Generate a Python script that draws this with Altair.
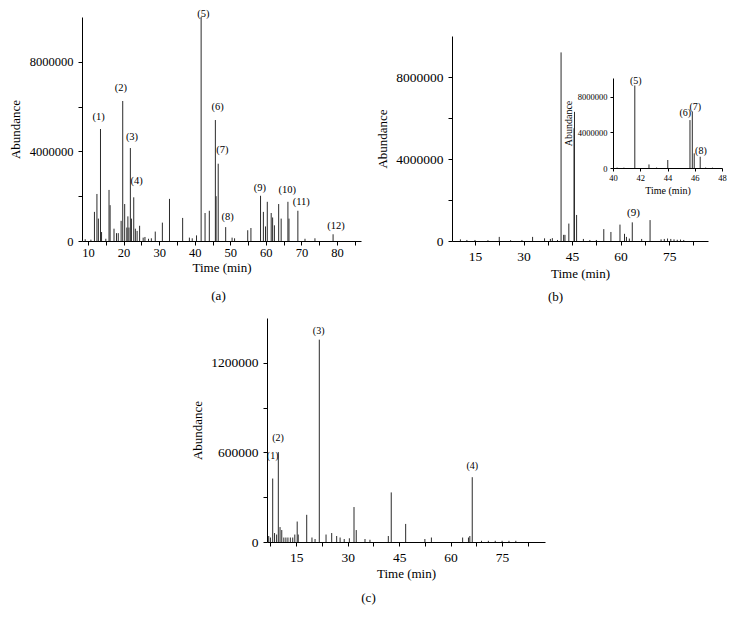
import altair as alt
import pandas as pd

W, H = 723, 609
FONT = "Liberation Serif"

# ---------------- Panel (a) ----------------
A_TIME = [9.2, 10.8, 11.8, 12.5, 12.9, 13.5, 13.8, 15.0, 15.9, 16.2, 17.3, 18.0, 18.5, 19.3,
          19.75, 20.3, 20.9, 21.2, 21.5, 21.9, 22.2, 22.85, 23.3, 23.8, 24.5, 25.5, 26.0, 27.0,
          27.8, 28.9, 30.9, 32.9, 36.6, 38.5, 39.3, 40.5, 41.8, 42.9, 44.1, 45.8, 46.0, 46.6,
          48.7, 50.5, 51.2, 54.9, 55.8, 58.5, 59.3, 59.9, 60.4, 61.5, 61.9, 62.4, 63.6, 64.3,
          66.2, 66.5, 69.0, 71.0, 73.8, 78.9]
A_ABUND = [0.08, 0.06, 1.3, 2.1, 1.0, 5.0, 0.4, 0.1, 2.28, 1.6, 0.55, 0.35, 0.35, 0.9,
           6.25, 1.65, 0.6, 1.1, 0.6, 4.15, 1.0, 1.95, 0.55, 0.45, 0.68, 0.15, 0.18, 0.1,
           0.12, 0.42, 0.82, 1.88, 1.03, 0.15, 0.12, 0.25, 10.0, 1.25, 1.35, 5.4, 2.0, 3.45,
           0.62, 0.15, 0.12, 0.48, 0.58, 2.02, 1.3, 0.65, 1.75, 1.25, 1.05, 0.7, 1.65, 1.0,
           1.75, 1.0, 1.35, 0.1, 0.12, 0.3]
A_LABEL = ["(1)", "(2)", "(3)", "(4)", "(5)", "(6)", "(7)", "(8)", "(9)", "(10)", "(11)", "(12)"]
A_LABEL_TIME = [13.0, 19.2, 22.36, 23.68, 42.4, 46.45, 47.75, 49.25, 58.35, 66.0, 69.95, 79.7]
A_LABEL_ABUND = [5.52, 6.85, 4.65, 2.66, 10.15, 6.0, 4.08, 1.06, 2.36, 2.27, 1.75, 0.67]
A_XTICKS = [10, 15, 20, 25, 30, 35, 40, 45, 50, 55, 60, 65, 70, 75, 80, 85]
A_YTICKS = [0, 2000000, 4000000, 6000000, 8000000]

# ---------------- Panel (b) ----------------
B_TIME = [10.5, 12.5, 15.0, 19.0, 22.5, 26.0, 29.5, 32.8, 36.5, 38.3, 38.9, 40.5, 41.6,
          42.4, 42.8, 44.0, 45.6, 45.75, 46.4, 48.5, 50.5, 52.5, 54.8, 57.0, 59.8, 61.2,
          61.8, 62.7, 63.6, 66.5, 69.1, 72.5, 73.5, 74.5, 75.5, 76.5, 77.5, 78.5, 79.5]
B_ABUND = [0.08, 0.05, 0.05, 0.04, 0.2, 0.04, 0.05, 0.2, 0.13, 0.1, 0.14, 0.05, 9.2,
           0.3, 0.3, 0.85, 5.5, 6.3, 1.27, 0.1, 0.05, 0.05, 0.58, 0.44, 0.8, 0.35,
           0.2, 0.12, 0.91, 0.1, 1.02, 0.08, 0.1, 0.12, 0.1, 0.08, 0.06, 0.07, 0.05]
B_LABEL = ["(9)"]
B_LABEL_TIME = [63.98]
B_LABEL_ABUND = [1.35]
B_XTICKS = [15, 22.5, 30, 37.5, 45, 52.5, 60, 67.5, 75, 82.5]
B_YTICKS = [0, 2000000, 4000000, 6000000, 8000000]

# ---------------- Inset of (b) ----------------
I_TIME = [40.3, 40.8, 41.6, 42.64, 43.2, 44.02, 45.65, 45.82, 45.96, 46.4, 46.8, 47.3]
I_ABUND = [0.05, 0.04, 9.3, 0.4, 0.05, 0.9, 5.4, 6.35, 1.65, 1.27, 0.05, 0.04]
I_LABEL = ["(5)", "(6)", "(7)", "(8)"]
I_LABEL_TIME = [41.67, 45.31, 46.04, 46.45]
I_LABEL_ABUND = [9.84, 6.16, 6.84, 1.92]
I_XTICKS = [40, 42, 44, 46, 48]
I_YTICKS = [0, 4000000, 8000000]

# ---------------- Panel (c) ----------------
C_TIME = [7.0, 7.5, 8.16, 8.7, 9.3, 9.8, 10.3, 10.8, 11.4, 12.0, 12.6, 13.3, 14.0, 14.6,
          15.3, 15.6, 18.07, 19.6, 20.5, 21.74, 23.7, 25.35, 26.8, 27.8, 29.0, 30.5, 31.85,
          32.5, 35.05, 36.5, 41.85, 42.7, 46.9, 52.5, 54.4, 63.5, 65.2, 65.6, 66.3,
          69.0, 71.0, 73.0, 75.0, 77.0, 79.0]
C_ABUND = [0.04, 0.03, 0.425, 0.06, 0.05, 0.602, 0.1, 0.08, 0.03, 0.03, 0.03, 0.03, 0.03, 0.05,
           0.137, 0.05, 0.182, 0.03, 0.02, 1.355, 0.05, 0.06, 0.04, 0.03, 0.02, 0.025, 0.234,
           0.08, 0.02, 0.015, 0.04, 0.332, 0.121, 0.02, 0.03, 0.03, 0.03, 0.04, 0.434,
           0.008, 0.008, 0.008, 0.008, 0.008, 0.008]
C_LABEL = ["(1)", "(2)", "(3)", "(4)"]
C_LABEL_TIME = [8.16, 9.7, 21.56, 66.3]
C_LABEL_ABUND = [0.573, 0.698, 1.412, 0.506]
C_XTICKS = [7.5, 15, 22.5, 30, 37.5, 45, 52.5, 60, 67.5, 75, 82.5]
C_YTICKS = [0, 300000, 600000, 900000, 1200000]


def frame(times, abunds, scale):
    return pd.DataFrame({"t": times, "v": [a * scale for a in abunds]})


def lab_frame(labels, times, abunds, scale):
    return pd.DataFrame({"lab": labels, "t": times, "v": [a * scale for a in abunds]})


def panel(peaks, labels, xdom, xrng, ydom, yrng, xticks, yticks, xmod, ymod,
          caption, capx, capy, lab_size=12.5, title_size=13, tick=4,
          xlabpad=2, xtitlepad=3, ylabpad=5, ytitlepad=6, peak_lab=10.5,
          xtitle="Time (min)", ytitle="Abundance"):
    axis_y_line = yrng[0]
    axis_x_line = xrng[0]
    xs = alt.Scale(domain=xdom, range=xrng, nice=False, zero=False)
    ys = alt.Scale(domain=ydom, range=yrng, nice=False, zero=False)
    xaxis = alt.Axis(orient="bottom", offset=-(H - axis_y_line), values=xticks,
                     labelExpr=f"datum.value % {xmod} === 0 ? datum.label : ''",
                     title=xtitle, tickSize=tick, labelPadding=xlabpad,
                     titlePadding=xtitlepad, labelFontSize=lab_size,
                     titleFontSize=title_size, format="d")
    yaxis = alt.Axis(orient="left", offset=-axis_x_line, values=yticks,
                     labelExpr=f"datum.value % {ymod} === 0 ? datum.label : ''",
                     title=ytitle, tickSize=tick, labelPadding=ylabpad,
                     titlePadding=ytitlepad, labelFontSize=lab_size,
                     titleFontSize=title_size, format="d")
    rules = alt.Chart(peaks).mark_rule(color="#2b2b2b", strokeWidth=1).encode(
        x=alt.X("t:Q", scale=xs, axis=xaxis),
        y=alt.Y("v:Q", scale=ys, axis=yaxis),
        y2=alt.datum(0),
    )
    if caption:
        cap_axis = alt.Axis(orient="bottom", offset=-(H - axis_y_line), domain=False,
                            ticks=False, labels=False, title=caption,
                            titleX=capx, titleY=capy, titleBaseline="middle",
                            titleAlign="center", titleFontSize=13)
    else:
        cap_axis = None
    texts = alt.Chart(labels).mark_text(font=FONT, fontSize=peak_lab, baseline="middle",
                                        align="center", color="black").encode(
        x=alt.X("t:Q", scale=xs, axis=cap_axis),
        y=alt.Y("v:Q", scale=ys, axis=None),
        text="lab:N",
    )
    return [rules, texts]


M = 1_000_000
layers = []
layers += panel(frame(A_TIME, A_ABUND, M), lab_frame(A_LABEL, A_LABEL_TIME, A_LABEL_ABUND, M),
                [8.3, 86.75], [74, 353], [0, 10.0 * M], [233, 9], A_XTICKS, A_YTICKS,
                10, 4000000, "(a)", 210, 54, lab_size=12.5, xlabpad=1, xtitlepad=3,
                ytitlepad=7)
layers += panel(frame(B_TIME, B_ABUND, M), lab_frame(B_LABEL, B_LABEL_TIME, B_LABEL_ABUND, M),
                [7.9, 87.0], [444, 700], [0, 10.0 * M], [233, 28], B_XTICKS, B_YTICKS,
                15, 4000000, "(b)", 547, 55, lab_size=13.5, xlabpad=4, xtitlepad=5,
                ytitlepad=6, peak_lab=11)
layers += panel(frame(I_TIME, I_ABUND, M), lab_frame(I_LABEL, I_LABEL_TIME, I_LABEL_ABUND, M),
                [40, 48], [605, 714], [0, 10.14 * M], [160, 70], I_XTICKS, I_YTICKS,
                2, 4000000, None, 0, 0, lab_size=8.5, title_size=10, tick=3,
                xlabpad=2, xtitlepad=4, ylabpad=3, ytitlepad=4, peak_lab=10)
layers += panel(frame(C_TIME, C_ABUND, M), lab_frame(C_LABEL, C_LABEL_TIME, C_LABEL_ABUND, M),
                [6.5, 87.5], [259, 537], [0, 1.5 * M], [534, 310], C_XTICKS, C_YTICKS,
                15, 600000, "(c)", 360, 55, lab_size=13.5, xlabpad=4, xtitlepad=4,
                ytitlepad=6, peak_lab=10)

chart = alt.layer(*layers).resolve_scale(x="independent", y="independent").properties(
    width=W, height=H, padding=0, autosize=alt.AutoSizeParams(type="none"),
    background="white",
).configure_view(stroke=None).configure_axis(
    labelFont=FONT, titleFont=FONT, titleFontWeight="normal", grid=False,
    domainColor="black", tickColor="black", labelColor="black", titleColor="black",
    domainWidth=1, tickWidth=1, labelFlush=False, labelOverlap=False,
)

chart.save("out.html", embed_options={"renderer": "svg", "actions": False})
